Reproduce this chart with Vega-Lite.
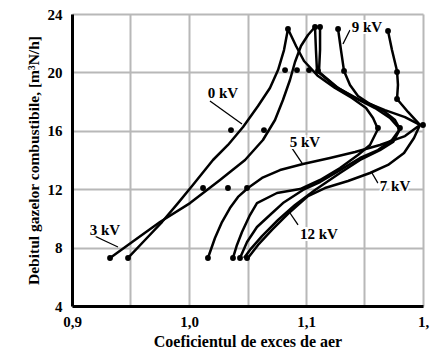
{
  "$schema": "https://vega.github.io/schema/vega-lite/v6.json",
  "autosize": {"type": "none"},
  "width": 351,
  "height": 292,
  "padding": {"left": 72, "top": 14, "right": 14, "bottom": 49},
  "config": {
    "view": {"stroke": null},
    "font": "Liberation Serif",
    "axis": {"labelFont": "Liberation Serif", "titleFont": "Liberation Serif", "labelFontWeight": "bold", "titleFontWeight": "bold", "labelColor": "#000", "titleColor": "#000"}
  },
  "datasets": {
    "curves": [
      {"s":"0 kV","o":1,"x":0.9479,"y":7.29},{"s":"0 kV","o":2,"x":0.9624,"y":8.52},{"s":"0 kV","o":3,"x":0.9769,"y":9.75},{"s":"0 kV","o":4,"x":0.9906,"y":11.05},{"s":"0 kV","o":5,"x":1.0026,"y":12.22},{"s":"0 kV","o":6,"x":1.0205,"y":14.0},{"s":"0 kV","o":7,"x":1.0333,"y":15.03},{"s":"0 kV","o":8,"x":1.0462,"y":16.26},{"s":"0 kV","o":9,"x":1.059,"y":17.7},{"s":"0 kV","o":10,"x":1.0692,"y":18.93},{"s":"0 kV","o":11,"x":1.0761,"y":20.16},{"s":"0 kV","o":12,"x":1.0812,"y":21.53},{"s":"0 kV","o":13,"x":1.0846,"y":22.97},{"s":"0 kV","o":14,"x":1.0915,"y":21.81},{"s":"0 kV","o":15,"x":1.0983,"y":20.78},{"s":"0 kV","o":16,"x":1.1103,"y":19.75},{"s":"0 kV","o":17,"x":1.1248,"y":18.93},{"s":"0 kV","o":18,"x":1.1393,"y":18.25},{"s":"0 kV","o":19,"x":1.1513,"y":17.56},{"s":"0 kV","o":20,"x":1.1573,"y":16.88},{"s":"0 kV","o":21,"x":1.1615,"y":16.12},{"s":"0 kV","o":22,"x":1.1547,"y":15.03},{"s":"0 kV","o":23,"x":1.1444,"y":14.34},{"s":"0 kV","o":24,"x":1.1291,"y":13.45},{"s":"0 kV","o":25,"x":1.112,"y":12.63},{"s":"0 kV","o":26,"x":1.0949,"y":12.01},{"s":"0 kV","o":27,"x":1.0752,"y":11.74},{"s":"0 kV","o":28,"x":1.0581,"y":11.05},{"s":"0 kV","o":29,"x":1.0521,"y":10.23},{"s":"0 kV","o":30,"x":1.0453,"y":9.07},{"s":"0 kV","o":31,"x":1.041,"y":8.18},{"s":"0 kV","o":32,"x":1.0376,"y":7.29},
      {"s":"3 kV","o":1,"x":0.9325,"y":7.29},{"s":"3 kV","o":2,"x":0.9538,"y":8.52},{"s":"3 kV","o":3,"x":0.9752,"y":9.75},{"s":"3 kV","o":4,"x":1.0009,"y":11.05},{"s":"3 kV","o":5,"x":1.0265,"y":12.63},{"s":"3 kV","o":6,"x":1.0479,"y":14.0},{"s":"3 kV","o":7,"x":1.0632,"y":15.37},{"s":"3 kV","o":8,"x":1.0735,"y":16.74},{"s":"3 kV","o":9,"x":1.0803,"y":18.11},{"s":"3 kV","o":10,"x":1.0863,"y":19.48},{"s":"3 kV","o":11,"x":1.0906,"y":20.71},{"s":"3 kV","o":12,"x":1.0957,"y":21.81},{"s":"3 kV","o":13,"x":1.1017,"y":22.56},{"s":"3 kV","o":14,"x":1.1077,"y":23.11},{"s":"3 kV","o":15,"x":1.1085,"y":21.53},{"s":"3 kV","o":16,"x":1.1094,"y":20.1},{"s":"3 kV","o":17,"x":1.1248,"y":19.07},{"s":"3 kV","o":18,"x":1.1419,"y":18.25},{"s":"3 kV","o":19,"x":1.159,"y":17.56},{"s":"3 kV","o":20,"x":1.1718,"y":16.88},{"s":"3 kV","o":21,"x":1.1803,"y":16.12},{"s":"3 kV","o":22,"x":1.1735,"y":15.37},{"s":"3 kV","o":23,"x":1.1615,"y":14.68},{"s":"3 kV","o":24,"x":1.1462,"y":14.14},{"s":"3 kV","o":25,"x":1.1291,"y":13.31},{"s":"3 kV","o":26,"x":1.112,"y":12.49},{"s":"3 kV","o":27,"x":1.0974,"y":11.95},{"s":"3 kV","o":28,"x":1.0803,"y":11.05},{"s":"3 kV","o":29,"x":1.0692,"y":10.23},{"s":"3 kV","o":30,"x":1.0581,"y":9.41},{"s":"3 kV","o":31,"x":1.0496,"y":8.38},{"s":"3 kV","o":32,"x":1.0436,"y":7.29},
      {"s":"5 kV","o":1,"x":1.112,"y":23.11},{"s":"5 kV","o":2,"x":1.112,"y":21.53},{"s":"5 kV","o":3,"x":1.1111,"y":20.03},{"s":"5 kV","o":4,"x":1.1274,"y":18.93},{"s":"5 kV","o":5,"x":1.1462,"y":18.11},{"s":"5 kV","o":6,"x":1.1675,"y":17.42},{"s":"5 kV","o":7,"x":1.1846,"y":16.94},{"s":"5 kV","o":8,"x":1.1974,"y":16.4},{"s":"5 kV","o":9,"x":1.1846,"y":15.64},{"s":"5 kV","o":10,"x":1.1632,"y":15.03},{"s":"5 kV","o":11,"x":1.1419,"y":14.55},{"s":"5 kV","o":12,"x":1.1205,"y":14.14},{"s":"5 kV","o":13,"x":1.0974,"y":13.73},{"s":"5 kV","o":14,"x":1.0778,"y":13.31},{"s":"5 kV","o":15,"x":1.0624,"y":12.77},{"s":"5 kV","o":16,"x":1.0504,"y":12.08},{"s":"5 kV","o":17,"x":1.0419,"y":11.47},{"s":"5 kV","o":18,"x":1.035,"y":10.71},{"s":"5 kV","o":19,"x":1.0282,"y":9.75},{"s":"5 kV","o":20,"x":1.0222,"y":8.66},{"s":"5 kV","o":21,"x":1.0162,"y":7.29},
      {"s":"9 kV","o":1,"x":1.1274,"y":22.97},{"s":"9 kV","o":2,"x":1.1299,"y":21.53},{"s":"9 kV","o":3,"x":1.1325,"y":20.1},{"s":"9 kV","o":4,"x":1.1376,"y":19.14},{"s":"9 kV","o":5,"x":1.1444,"y":18.38},{"s":"9 kV","o":6,"x":1.1547,"y":17.84},{"s":"9 kV","o":7,"x":1.1675,"y":17.29},{"s":"9 kV","o":8,"x":1.1761,"y":16.74},{"s":"9 kV","o":9,"x":1.1803,"y":16.12},{"s":"9 kV","o":10,"x":1.1744,"y":15.23},{"s":"9 kV","o":11,"x":1.1632,"y":14.68},{"s":"9 kV","o":12,"x":1.1462,"y":14.0},{"s":"9 kV","o":13,"x":1.1291,"y":13.11},{"s":"9 kV","o":14,"x":1.1077,"y":11.95},{"s":"9 kV","o":15,"x":1.0906,"y":10.92},{"s":"9 kV","o":16,"x":1.0761,"y":9.89},{"s":"9 kV","o":17,"x":1.0624,"y":8.79},{"s":"9 kV","o":18,"x":1.0521,"y":7.84},{"s":"9 kV","o":19,"x":1.047,"y":7.29},
      {"s":"12 kV","o":1,"x":1.1701,"y":22.84},{"s":"12 kV","o":2,"x":1.1735,"y":21.53},{"s":"12 kV","o":3,"x":1.1778,"y":20.1},{"s":"12 kV","o":4,"x":1.1786,"y":19.14},{"s":"12 kV","o":5,"x":1.1778,"y":18.18},{"s":"12 kV","o":6,"x":1.1872,"y":17.29},{"s":"12 kV","o":7,"x":1.1974,"y":16.4},{"s":"12 kV","o":8,"x":1.1923,"y":15.51},{"s":"12 kV","o":9,"x":1.1838,"y":14.48},{"s":"12 kV","o":10,"x":1.1701,"y":13.66},{"s":"12 kV","o":11,"x":1.1547,"y":13.11},{"s":"12 kV","o":12,"x":1.1359,"y":12.56},{"s":"12 kV","o":13,"x":1.1162,"y":12.08},{"s":"12 kV","o":14,"x":1.1017,"y":11.53},{"s":"12 kV","o":15,"x":1.0863,"y":10.44},{"s":"12 kV","o":16,"x":1.0709,"y":9.21},{"s":"12 kV","o":17,"x":1.059,"y":8.18},{"s":"12 kV","o":18,"x":1.0504,"y":7.29}
    ],
    "leaders": [
      {"s":"L0","o":1,"x":1.0179,"y":18.04},{"s":"L0","o":2,"x":1.0453,"y":16.47},
      {"s":"L9","o":1,"x":1.1376,"y":22.9},{"s":"L9","o":2,"x":1.1316,"y":21.95},
      {"s":"L5","o":1,"x":1.088,"y":14.82},{"s":"L5","o":2,"x":1.0966,"y":13.79},
      {"s":"L7","o":1,"x":1.1564,"y":13.11},{"s":"L7","o":2,"x":1.1615,"y":12.42},
      {"s":"L12","o":1,"x":1.0863,"y":10.37},{"s":"L12","o":2,"x":1.0932,"y":9.55},
      {"s":"L3","o":1,"x":0.9179,"y":8.86},{"s":"L3","o":2,"x":0.9265,"y":8.52},{"s":"L3","o":3,"x":0.9393,"y":8.04}
    ],
    "points": [
      {"x":1.0846,"y":22.97},{"x":1.1077,"y":23.11},{"x":1.112,"y":23.11},{"x":1.1274,"y":22.97},{"x":1.1701,"y":22.84},
      {"x":1.0821,"y":20.16},{"x":1.0923,"y":20.16},{"x":1.1026,"y":20.16},{"x":1.1103,"y":20.1},{"x":1.1325,"y":20.1},{"x":1.1778,"y":20.03},
      {"x":1.1778,"y":18.18},
      {"x":1.0359,"y":16.05},{"x":1.0641,"y":16.05},{"x":1.1615,"y":16.19},{"x":1.1803,"y":16.19},{"x":1.2,"y":16.4},
      {"x":1.012,"y":12.08},{"x":1.0333,"y":12.08},{"x":1.0496,"y":12.08},
      {"x":0.9325,"y":7.29},{"x":0.9479,"y":7.29},{"x":1.0162,"y":7.29},{"x":1.0376,"y":7.29},{"x":1.0436,"y":7.29},{"x":1.0496,"y":7.29}
    ],
    "labels": [
      {"t":"0 kV","x":1.029,"y":18.59},
      {"t":"9 kV","x":1.1521,"y":23.11},
      {"t":"5 kV","x":1.0991,"y":15.23},
      {"t":"7 kV","x":1.1761,"y":12.22},
      {"t":"12 kV","x":1.1111,"y":8.93},
      {"t":"3 kV","x":0.9282,"y":9.21}
    ]
  },
  "layer": [
    {
      "data": {"name": "curves"},
      "mark": {"type": "line", "color": "#000", "strokeWidth": 2.5, "strokeJoin": "round"},
      "encoding": {
        "x": {"field": "x", "type": "quantitative", "scale": {"domain": [0.9, 1.2], "nice": false, "zero": false},
          "axis": {"values": [0.9, 0.95, 1.0, 1.05, 1.1, 1.15, 1.2], "title": "Coeficientul de exces de aer", "titleFontSize": 16, "labelFontSize": 15, "labelPadding": 8, "titlePadding": 4,
            "labelExpr": "datum.value < 0.925 ? '0,9' : (abs(datum.value - 1.0) < 0.01 ? '1,0' : (abs(datum.value - 1.1) < 0.01 ? '1,1' : (abs(datum.value - 1.2) < 0.01 ? '1,' : '')))",
            "ticks": false, "domainColor": "#000", "domainWidth": 3, "gridColor": "#b8b8b8", "gridWidth": 2, "gridOpacity": 1, "labelFlush": false}},
        "y": {"field": "y", "type": "quantitative", "scale": {"domain": [4, 24], "nice": false, "zero": false},
          "axis": {"values": [4, 8, 12, 16, 20, 24], "title": "Debitul gazelor combustibile, [m³N/h]", "titleFontSize": 15.5, "labelFontSize": 15, "labelPadding": 10, "titlePadding": 6,
            "ticks": false, "domainColor": "#000", "domainWidth": 3, "gridColor": "#b8b8b8", "gridWidth": 2, "gridOpacity": 1, "labelFlush": false}},
        "detail": {"field": "s"},
        "order": {"field": "o", "type": "quantitative"}
      }
    },
    {
      "mark": {"type": "rule", "color": "#000", "strokeWidth": 3},
      "encoding": {"y": {"datum": 24}}
    },
    {
      "mark": {"type": "rule", "color": "#8f8f8f", "strokeWidth": 5, "xOffset": 2.5},
      "encoding": {"x": {"datum": 1.2}}
    },
    {
      "data": {"name": "leaders"},
      "mark": {"type": "line", "color": "#000", "strokeWidth": 1.3},
      "encoding": {
        "x": {"field": "x", "type": "quantitative"},
        "y": {"field": "y", "type": "quantitative"},
        "detail": {"field": "s"},
        "order": {"field": "o", "type": "quantitative"}
      }
    },
    {
      "data": {"name": "points"},
      "mark": {"type": "point", "filled": true, "color": "#000", "opacity": 1, "size": 34},
      "encoding": {
        "x": {"field": "x", "type": "quantitative"},
        "y": {"field": "y", "type": "quantitative"}
      }
    },
    {
      "data": {"name": "labels"},
      "mark": {"type": "text", "font": "Liberation Serif", "fontWeight": "bold", "fontSize": 15, "color": "#fff", "stroke": "#fff", "strokeWidth": 4},
      "encoding": {
        "x": {"field": "x", "type": "quantitative"},
        "y": {"field": "y", "type": "quantitative"},
        "text": {"field": "t"}
      }
    },
    {
      "data": {"name": "labels"},
      "mark": {"type": "text", "font": "Liberation Serif", "fontWeight": "bold", "fontSize": 15, "color": "#000"},
      "encoding": {
        "x": {"field": "x", "type": "quantitative"},
        "y": {"field": "y", "type": "quantitative"},
        "text": {"field": "t"}
      }
    }
  ]
}
